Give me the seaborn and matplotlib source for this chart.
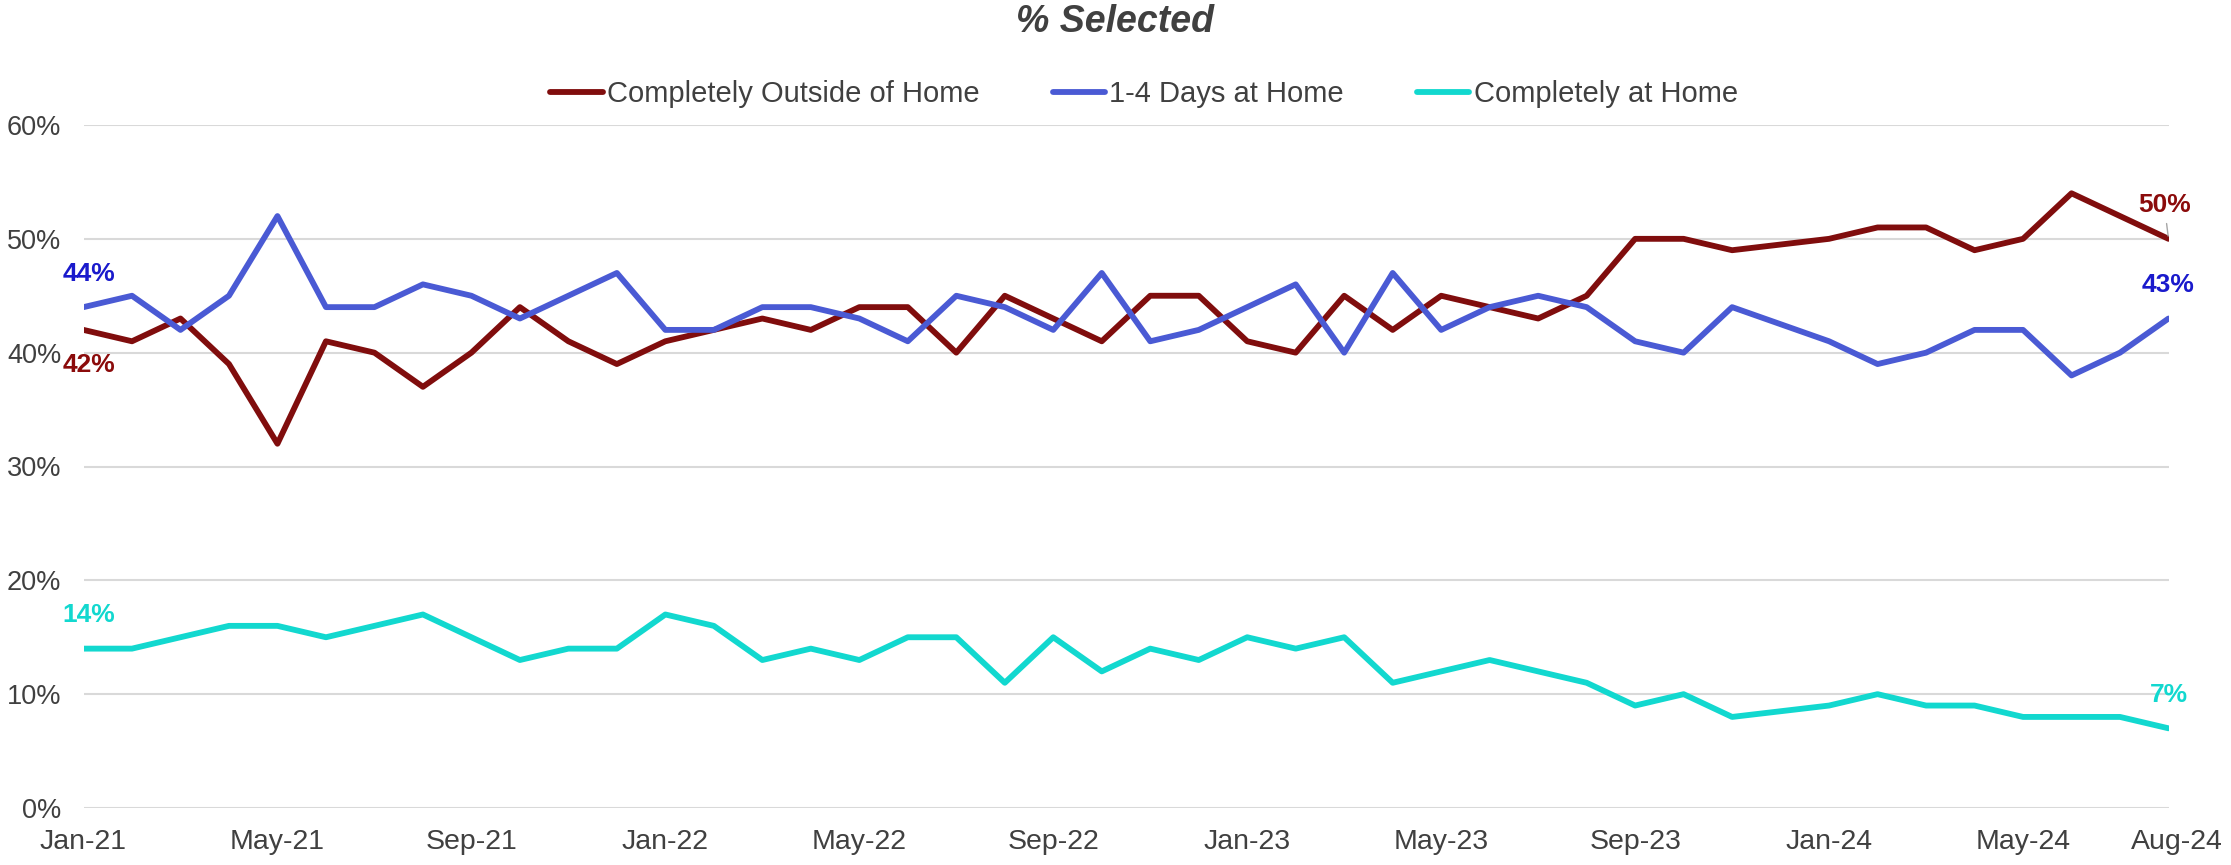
import numpy as np
import pandas as pd
import matplotlib.pyplot as plt
import matplotlib.transforms as mtransforms
import seaborn as sns

# ── Data (percent selected, monthly; Dec-23 has no reading) ─────────────────

months = pd.date_range("2021-01-01", "2024-08-01", freq="MS").strftime("%b-%y").tolist()

outside_home = [42, 41, 43, 39, 32, 41, 40, 37, 40, 44, 41, 39,
                41, 42, 43, 42, 44, 44, 40, 45, 43, 41, 45, 45,
                41, 40, 45, 42, 45, 44, 43, 45, 50, 50, 49, None,
                50, 51, 51, 49, 50, 54, 52, 50]
days_1_4 = [44, 45, 42, 45, 52, 44, 44, 46, 45, 43, 45, 47,
            42, 42, 44, 44, 43, 41, 45, 44, 42, 47, 41, 42,
            44, 46, 40, 47, 42, 44, 45, 44, 41, 40, 44, None,
            41, 39, 40, 42, 42, 38, 40, 43]
at_home = [14, 14, 15, 16, 16, 15, 16, 17, 15, 13, 14, 14,
           17, 16, 13, 14, 13, 15, 15, 11, 15, 12, 14, 13,
           15, 14, 15, 11, 12, 13, 12, 11, 9, 10, 8, None,
           9, 10, 9, 9, 8, 8, 8, 7]

series_names = ["Completely Outside of Home", "1-4 Days at Home", "Completely at Home"]
line_colors = ["#800d0d", "#4a5ad4", "#12d8cf"]
label_colors = ["#8b0b0b", "#1a1acc", "#12d8cf"]
tick_months = ["Jan-21", "May-21", "Sep-21", "Jan-22", "May-22", "Sep-22",
               "Jan-23", "May-23", "Sep-23", "Jan-24", "May-24", "Aug-24"]

wide = pd.DataFrame({
    "month": months,
    "pos": np.arange(len(months)),
    series_names[0]: outside_home,
    series_names[1]: days_1_4,
    series_names[2]: at_home,
})
df = wide.melt(id_vars=["month", "pos"], var_name="series", value_name="pct").dropna()

# ── Plot ─────────────────────────────────────────────────────────────────────

sns.set_theme(style="white")
plt.rcParams["font.family"] = ["Liberation Sans", "DejaVu Sans"]
text_color = "#404040"

W, H = 2231, 865
left, right, top, bottom = 83.5, 2168.5, 125, 808

fig = plt.figure(figsize=(W / 100, H / 100), dpi=100)
ax = fig.add_axes([left / W, 1 - bottom / H, (right - left) / W, (bottom - top) / H])

sns.lineplot(data=df, x="pos", y="pct", hue="series", hue_order=series_names,
             palette=dict(zip(series_names, line_colors)), linewidth=4.2,
             ax=ax, sort=True)

ax.set_xlim(0, len(months) - 1)
ax.set_ylim(0, 60)
ax.set_yticks(range(0, 61, 10))
ax.set_yticklabels([f"{v}%" for v in range(0, 61, 10)])
ax.set_xticks([months.index(m) for m in tick_months])
ax.set_xticklabels(tick_months)
ax.set_xlabel("")
ax.set_ylabel("")
ax.yaxis.grid(True, color="#d9d9d9", linewidth=1.5)
ax.xaxis.grid(False)
ax.set_axisbelow(True)
sns.despine(ax=ax, left=True, bottom=True)
ax.tick_params(axis="y", length=0, pad=16, labelsize=19.5, labelcolor=text_color)
ax.tick_params(axis="x", length=0, pad=15, labelsize=20.5, labelcolor=text_color)

# the last date label sits a little right of its point, as in the original
last_lbl = ax.get_xticklabels()[-1]
last_lbl.set_transform(last_lbl.get_transform()
                       + mtransforms.ScaledTranslation(0.08, 0, fig.dpi_scale_trans))

# first / last value labels
first_offsets = [(4, -25), (4, 24), (4, 24)]
last_offsets = [(-3, 24), (0, 24), (0, 24)]
for name, col, fo, lo in zip(series_names, label_colors, first_offsets, last_offsets):
    s = df[df["series"] == name]
    x0, y0 = s["pos"].iloc[0], s["pct"].iloc[0]
    x1, y1 = s["pos"].iloc[-1], s["pct"].iloc[-1]
    ax.annotate(f"{y0:.0f}%", (x0, y0), xytext=fo, textcoords="offset points",
                ha="center", va="center", fontsize=19, fontweight="bold",
                color=col, annotation_clip=False)
    arrow = dict(arrowstyle="-", color="#a6a6a6", lw=1) if name == series_names[0] else None
    ax.annotate(f"{y1:.0f}%", (x1, y1), xytext=lo, textcoords="offset points",
                ha="center", va="center", fontsize=19, fontweight="bold",
                color=col, annotation_clip=False, arrowprops=arrow)

sns.move_legend(ax, "center",
                bbox_to_anchor=((1144 - left) / (right - left), (bottom - 94) / (bottom - top)),
                ncol=3, title=None, frameon=False, fontsize=21,
                handlelength=1.8, handletextpad=0.15, columnspacing=2.5)
for t in ax.get_legend().get_texts():
    t.set_color(text_color)

fig.text(0.5, 1 - 22 / H, "% Selected", ha="center", va="center",
         fontsize=27, fontweight="bold", fontstyle="italic", color=text_color)

fig.savefig("out.png", dpi=100)
